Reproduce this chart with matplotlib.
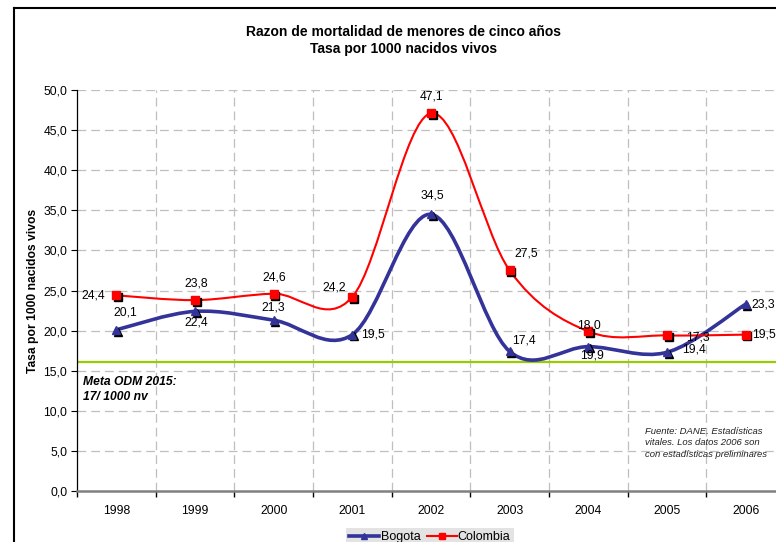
import numpy as np
import matplotlib
matplotlib.use("Agg")
import matplotlib.pyplot as plt
from matplotlib.path import Path
from matplotlib.patches import PathPatch
from matplotlib.lines import Line2D
import matplotlib.transforms as mtransforms

plt.rcParams['font.family'] = ['Liberation Sans', 'DejaVu Sans']

# data
years = ['1998', '1999', '2000', '2001', '2002', '2003', '2004', '2005', '2006']
bogota = [20.1, 22.4, 21.3, 19.5, 34.5, 17.4, 18.0, 17.3, 23.3]
colombia = [24.4, 23.8, 24.6, 24.2, 47.1, 27.5, 19.9, 19.4, 19.5]
# labels as printed on the original chart
bogota_labels = ['20,1', '22,4', '21,3', '19,5', '34,5', '17,4', '19,9', '19,4', '23,3']
colombia_labels = ['24,4', '23,8', '24,6', '24,2', '47,1', '27,5', '18,0', '17,3', '19,5']
meta_odm = 16.1

# label offsets in pixels
bog_off = [(9, 17), (1, -11), (0, 13), (21, 0), (1, 19), (14, 11), (4, -9), (27, 3), (18, 0)]
col_off = [(-23, 0), (1, 17), (1, 16), (-18, 9), (1, 17), (17, 17), (1, 6), (31, -2), (18, 0)]

BLUE = '#333399'
RED = '#FF0000'


def smooth_path(xs, ys):
    # Excel-like smoothed line: cubic Bezier through points (Catmull-Rom)
    pts = np.column_stack([xs, ys]).astype(float)
    n = len(pts)
    verts = [pts[0]]
    codes = [Path.MOVETO]
    for i in range(n - 1):
        p0 = pts[i - 1] if i > 0 else pts[i]
        p1 = pts[i]
        p2 = pts[i + 1]
        p3 = pts[i + 2] if i + 2 < n else pts[i + 1]
        c1 = p1 + (p2 - p0) / 6.0
        c2 = p2 - (p3 - p1) / 6.0
        verts += [c1, c2, p2]
        codes += [Path.CURVE4] * 3
    return Path(verts, codes)


fig = plt.figure(figsize=(7.76, 5.42), dpi=100)
ax = fig.add_axes([0.0992, 0.0941, 0.9124, 0.7398])

x = np.arange(1, len(years) + 1)

ax.set_xlim(0.5, len(years) + 0.5)
ax.set_ylim(0, 50)

# grid
for yv in np.arange(5, 51, 5):
    ax.axhline(yv, color='#bfbfbf', lw=0.9, ls=(0, (7, 4)), zorder=1)
for xv in np.arange(1.5, len(years), 1):
    ax.axvline(xv, color='#bfbfbf', lw=0.9, ls=(0, (7, 4)), zorder=1)

# meta ODM line
ax.axhline(meta_odm, color='#99CC00', lw=1.6, zorder=2)

# smoothed lines
ax.add_patch(PathPatch(smooth_path(x, bogota), fill=False, edgecolor=BLUE,
                       lw=2.6, transform=ax.transData, zorder=3, capstyle='round'))
ax.add_patch(PathPatch(smooth_path(x, colombia), fill=False, edgecolor=RED,
                       lw=1.5, transform=ax.transData, zorder=4, capstyle='round'))

# markers with black shadow
shadow = mtransforms.offset_copy(ax.transData, fig=fig, x=1.8, y=-1.8, units='dots')
ax.plot(x, bogota, ls='none', marker='^', ms=6, color='black', transform=shadow, zorder=5)
ax.plot(x, bogota, ls='none', marker='^', ms=6, color=BLUE, zorder=6)
ax.plot(x, colombia, ls='none', marker='s', ms=6, color='black', transform=shadow, zorder=5)
ax.plot(x, colombia, ls='none', marker='s', ms=6, color=RED, zorder=6)

# data labels
for xi, v, lab, off in zip(x, bogota, bogota_labels, bog_off):
    ax.annotate(lab, (xi, v), xytext=off, textcoords='offset pixels',
                ha='center', va='center', fontsize=8.7, zorder=7)
for xi, v, lab, off in zip(x, colombia, colombia_labels, col_off):
    ax.annotate(lab, (xi, v), xytext=off, textcoords='offset pixels',
                ha='center', va='center', fontsize=8.7, zorder=7)

# axes styling
ax.set_yticks(np.arange(0, 51, 5))
ax.set_yticklabels([f'{v:.1f}'.replace('.', ',') for v in np.arange(0, 51, 5)], fontsize=8.7)
ax.set_xticks(np.arange(0.5, len(years) + 1, 1))
ax.set_xticklabels([])
ax.set_xticks(x, minor=True)
ax.set_xticklabels(years, minor=True, fontsize=8.7)
ax.tick_params(axis='x', which='minor', length=0, pad=10)
ax.tick_params(axis='x', which='major', length=4, width=1, color='black', direction='out')
ax.tick_params(axis='y', length=4, width=0.8, direction='out', pad=3)
for s in ['top', 'right']:
    ax.spines[s].set_visible(False)
ax.spines['left'].set_color('black')
ax.spines['left'].set_linewidth(0.9)
ax.spines['bottom'].set_color('#808080')
ax.spines['bottom'].set_linewidth(1.8)
ax.patch.set_alpha(0)

# annotations
ax.text(0.58, 14.3, 'Meta ODM 2015:\n17/ 1000 nv', fontsize=8.7, fontweight='bold',
        fontstyle='italic', ha='left', va='top', linespacing=1.3)
fig.text(645 / 776, 1 - 427 / 542,
         'Fuente: DANE. Estadísticas\nvitales. Los datos 2006 son\ncon estadísticas preliminares',
         fontsize=6.8, fontstyle='italic', ha='left', va='top', linespacing=1.35, color='#222222')

fig.text(0.52, 1 - 32 / 542, 'Razon de mortalidad de menores de cinco años',
         fontsize=10, fontweight='bold', ha='center', va='center')
fig.text(0.52, 1 - 49 / 542, 'Tasa por 1000 nacidos vivos',
         fontsize=10, fontweight='bold', ha='center', va='center')
fig.text(33 / 776, 1 - 291 / 542, 'Tasa por 1000 nacidos vivos', rotation=90,
         fontsize=8.7, fontweight='bold', ha='center', va='center')

# outer frame
fig.add_artist(Line2D([13.5 / 776, 13.5 / 776], [0, 1 - 7.5 / 542], transform=fig.transFigure,
                      color='black', lw=1.5))
fig.add_artist(Line2D([13.5 / 776, 1], [1 - 7.5 / 542, 1 - 7.5 / 542], transform=fig.transFigure,
                      color='black', lw=1.5))

# legend
handles = [Line2D([], [], color=BLUE, lw=2.6, marker='^', ms=5),
           Line2D([], [], color=RED, lw=1.5, marker='s', ms=5)]
leg = fig.legend(handles, ['Bogota', 'Colombia'], loc='upper center',
                 bbox_to_anchor=(430 / 776, 1 - 528 / 542), ncol=2, fontsize=9,
                 frameon=True, fancybox=False, handlelength=2.4, handletextpad=0.1,
                 columnspacing=0.5, borderpad=0.25, borderaxespad=0)
leg.get_frame().set_facecolor('#dcdcdc')
leg.get_frame().set_edgecolor('none')

fig.savefig('out.png', dpi=100)
